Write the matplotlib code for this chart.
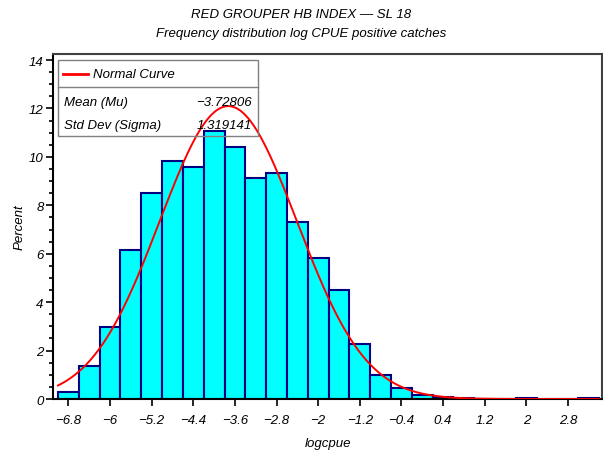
import numpy as np
import matplotlib
matplotlib.use("Agg")
import matplotlib.pyplot as plt
from matplotlib.patches import Rectangle
from matplotlib.ticker import MultipleLocator, FixedLocator

plt.rcParams['font.family'] = ['Liberation Sans', 'DejaVu Sans']
plt.rcParams['font.style'] = 'italic'

# histogram data (bin midpoints, percent)
midpoints = [-6.8, -6.4, -6.0, -5.6, -5.2, -4.8, -4.4, -4.0, -3.6, -3.2,
             -2.8, -2.4, -2.0, -1.6, -1.2, -0.8, -0.4, 0.0, 0.4, 0.8,
             1.2, 1.6, 2.0, 2.4, 2.8, 3.2]
percent = [0.28, 1.35, 2.99, 6.17, 8.51, 9.85, 9.57, 11.09, 10.39, 9.12,
           9.34, 7.33, 5.83, 4.52, 2.26, 0.99, 0.47, 0.17, 0.08, 0.04,
           0.02, 0.0, 0.06, 0.0, 0.0, 0.06]
bin_width = 0.4
xtick_vals = [-6.8, -6.0, -5.2, -4.4, -3.6, -2.8, -2.0, -1.2, -0.4, 0.4, 1.2, 2.0, 2.8]
xtick_labels = ['\u22126.8', '\u22126', '\u22125.2', '\u22124.4', '\u22123.6', '\u22122.8',
                '\u22122', '\u22121.2', '\u22120.4', '0.4', '1.2', '2', '2.8']
mu = -3.72806
sigma = 1.319141

fig = plt.figure(figsize=(6.03, 4.56), dpi=100)
ax = fig.add_axes([0.0884, 0.1228, 0.9096, 0.7566])

ax.bar(midpoints, percent, width=bin_width, color='#00FFFF',
       edgecolor='#000080', linewidth=1.5, zorder=2)

# fitted normal curve scaled to percent per bin
xs = np.linspace(-7.0, 3.4, 400)
ys = 100 * bin_width * np.exp(-0.5 * ((xs - mu) / sigma) ** 2) / (sigma * np.sqrt(2 * np.pi))
ax.plot(xs, ys, color='red', linewidth=1.4, zorder=3)

ax.set_xlim(-7.09, 3.45)
ax.set_ylim(0, 14.25)
ax.xaxis.set_major_locator(FixedLocator(xtick_vals))
ax.set_xticklabels(xtick_labels)
ax.yaxis.set_major_locator(MultipleLocator(2))
ax.yaxis.set_minor_locator(MultipleLocator(0.5))
ax.tick_params(axis='both', which='major', direction='out', length=5, width=1.2,
               labelsize=9.5, color='black')
ax.tick_params(axis='x', which='major', pad=6)
ax.tick_params(axis='y', which='major', pad=2)
ax.tick_params(axis='y', which='minor', direction='out', length=3, width=1.2)
for s in ['left', 'bottom']:
    ax.spines[s].set_linewidth(1.5)
    ax.spines[s].set_color('black')
for s in ['top', 'right']:
    ax.spines[s].set_linewidth(1.5)
    ax.spines[s].set_color('#404040')

ax.set_xlabel('logcpue', fontsize=9.5, labelpad=8)
ax.set_ylabel('Percent', fontsize=9.5, labelpad=2)

fig.text(0.5, 0.968, 'RED GROUPER HB INDEX \u2014 SL 18', ha='center', va='center', fontsize=9.5)
fig.text(0.5, 0.925, 'Frequency distribution log CPUE positive catches', ha='center',
         va='center', fontsize=9.5)

# legend / inset box
ax.add_patch(Rectangle((0.0091, 0.7614), 0.3645, 0.2212, transform=ax.transAxes,
                       fill=False, edgecolor='#808080', linewidth=1.0, zorder=4))
ax.plot([0.0091, 0.3736], [0.905, 0.905], transform=ax.transAxes,
        color='#808080', linewidth=1.0, zorder=4)
ax.plot([0.0182, 0.0638], [0.942, 0.942], transform=ax.transAxes,
        color='red', linewidth=2, zorder=4)
ax.text(0.072, 0.942, 'Normal Curve', transform=ax.transAxes, va='center', fontsize=9.5)
ax.text(0.02, 0.86, 'Mean (Mu)', transform=ax.transAxes, va='center', fontsize=9.5)
ax.text(0.02, 0.794, 'Std Dev (Sigma)', transform=ax.transAxes, va='center', fontsize=9.5)
ax.text(0.3616, 0.86, '\u22123.72806', transform=ax.transAxes, va='center', ha='right', fontsize=9.5)
ax.text(0.3616, 0.794, '1.319141', transform=ax.transAxes, va='center', ha='right', fontsize=9.5)

fig.savefig('out.png', dpi=100)
